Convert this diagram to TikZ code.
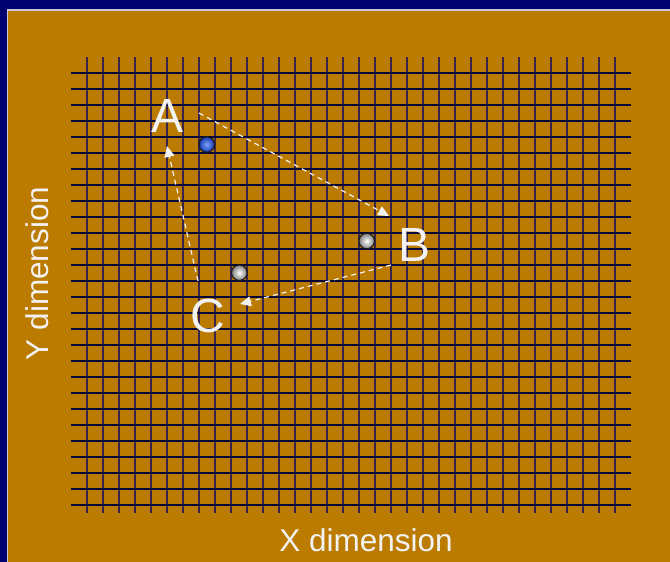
\documentclass[tikz,border=0pt]{standalone}
\usepackage{fontspec}
\setmainfont{Liberation Sans}
\definecolor{slidenavy}{RGB}{0,0,112}
\definecolor{panelgold}{RGB}{187,122,0}
\definecolor{gridv}{RGB}{58,36,74}
\definecolor{gridh}{RGB}{8,6,55}
\definecolor{labelwhite}{RGB}{242,242,242}
\tikzset{
  movearrow/.style={draw=labelwhite, line width=1.2pt, dash pattern=on 5pt off 4pt, -{Triangle[length=11pt,width=10pt]}},
  corner/.style={text=labelwhite, font=\fontsize{48}{48}\selectfont, anchor=base, inner sep=0pt},
  axislabel/.style={text=labelwhite, font=\fontsize{31.5}{31.5}\selectfont, anchor=base, inner sep=0pt},
  bead/.style={circle, draw=black!90, line width=1.1pt, minimum size=15.5pt, inner sep=0pt}
}
\usetikzlibrary{arrows.meta}
\begin{document}
\begin{tikzpicture}[x=1pt, y=-1pt]
  % page: navy slide with gold panel
  \fill[slidenavy] (0,0) rectangle (670,562);
  \useasboundingbox (0,0) rectangle (670,562);
  \fill[panelgold] (6.5,9) rectangle (670,562);
  \draw[color={rgb,255:red,200;green,200;blue,220}, line width=1.6pt] (670,9.8) -- (7.3,9.8) -- (7.3,562);
  % grid
  \foreach \i in {0,...,33}
    \draw[gridv, line width=2pt] (86.7+16*\i,57) -- (86.7+16*\i,513);
  \foreach \j in {0,...,27}
    \draw[gridh, line width=1.9pt] (71,73.3+16*\j) -- (631,73.3+16*\j);
  % particles
  \node[bead, inner color={rgb,255:red,120;green,165;blue,255}, outer color={rgb,255:red,25;green,55;blue,170}] (pblue) at (206.7,144.5) {};
  \node[bead, inner color=white, outer color=black!50] (pright) at (366.7,241) {};
  \node[bead, inner color=white, outer color=black!50] (pleft) at (239.3,272.7) {};
  % corner labels
  \node[corner] (A) at (167.5,132.7) {A};
  \node[corner] (B) at (415,261) {B};
  \node[corner] (C) at (208,332.5) {C};
  % arrow ends
  \coordinate (aout) at (199,113);
  \coordinate (bin) at (389,216);
  \coordinate (bout) at (391,265);
  \coordinate (cin) at (240,304);
  \coordinate (cout) at (198,281);
  \coordinate (ain) at (167,146);
  \draw[movearrow] (aout) -- (bin);
  \draw[movearrow] (bout) -- (cin);
  \draw[movearrow] (cout) -- (ain);
  % axes
  \node[axislabel] (xlab) at (366,551.7) {X dimension};
  \node[axislabel, rotate=90] (ylab) at (48.3,273.5) {Y dimension};
\end{tikzpicture}
\end{document}
